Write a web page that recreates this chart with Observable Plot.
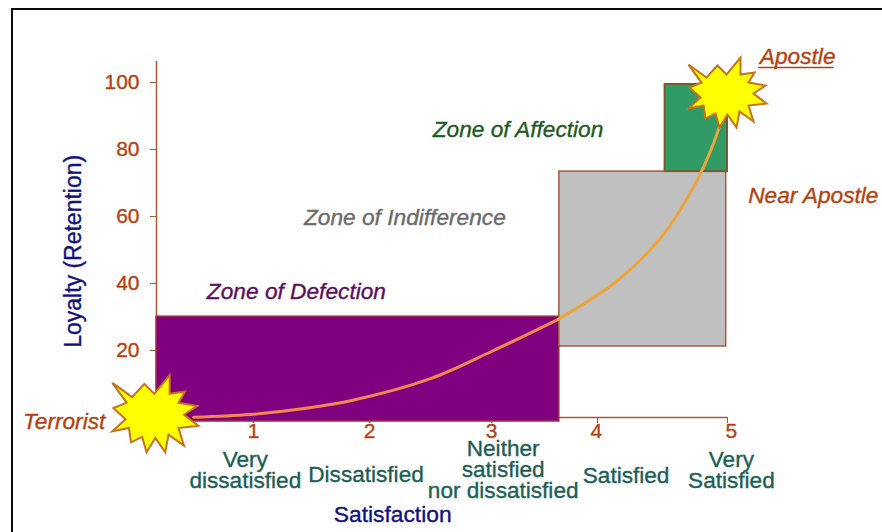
<!DOCTYPE html>
<html>
<head>
<meta charset="utf-8">
<script src="https://cdn.jsdelivr.net/npm/d3@7"></script>
<script src="https://cdn.jsdelivr.net/npm/@observablehq/plot@0.6"></script>
<style>
html,body{margin:0;padding:0;background:#fff;overflow:hidden}
#wrap{position:relative;width:882px;height:532px;overflow:hidden}
#frame{position:absolute;left:11px;top:8px;width:900px;height:600px;border-left:2.5px solid #0a0a0a;border-top:2.5px solid #0a0a0a;background:linear-gradient(#fdfdf0,#fff 6px)}
#chart{position:absolute;left:0;top:0}
</style>
</head>
<body>
<div id="wrap"><div id="frame"></div><div id="chart"></div></div>
<script>
// scale anchors: satisfaction ticks are unevenly spaced in the picture
const xStops = [0.17, 1, 2, 3, 4, 5];
const xPixels = [156, 253, 369, 491, 597, 727];
const yTicks = [20, 40, 60, 80, 100];
const xTicks = [1, 2, 3, 4, 5];
const xTickLabelX = [1, 2, 3, 3.99, 5.03];

// zones
const zoneNames = ["Defection", "Indifference", "Affection"];
const zoneX1 = [0.17, 3.64, 4.52];
const zoneX2 = [3.64, 4.99, 5];
const zoneY1 = [-1.2, 21.2, 73.4];
const zoneY2 = [30.1, 73.4, 99.4];
const zoneFill = ["#800080", "#c0c0c0", "#319b66"];
const zoneStroke = ["#a0304a", "#a8583a", "#7a5a30"];
const zoneStrokeWidth = [1.5, 1.5, 2];

// loyalty curve
const curveX = [0.487, 0.97, 1.405, 1.836, 2.5, 3, 3.63, 4.154, 4.485, 4.738, 4.892, 5];
const curveY = [0.09, 0.9, 2.54, 5, 11.6, 19.7, 29.3, 40.9, 53.6, 68.7, 81.8, 94.6];
const curveSplit = 7;

// stars
const starX = [0.16, 5];
const starY = [1.8, 97.6];
const starR = [43, 39];
const starOutline = [
  [-39,-26],[-21,-13],[-10,-25],[-1,-16],[13,-33],[13,-16],[27,-18],[21,-8],
  [38,-5],[26,3],[39,13],[21,15],[26,31],[12,21],[9,37],[0,24],
  [-8,37],[-12,23],[-22,28],[-24,15],[-39,18],[-27,7],[-38,-3],[-26,-8]
];

// category labels
const catLabels = ["Very\ndissatisfied", "Dissatisfied", "Neither\nsatisfied\nnor dissatisfied", "Satisfied", "Very\nSatisfied"];
const catX = [0.93, 1.97, 3.11, 4.22, 5.03];
const catY = [-16, -17.3, -15.8, -17.6, -15.8];

// free labels
const freeLabels = ["Zone of Affection", "Zone of Indifference", "Zone of Defection", "Apostle", "Near Apostle", "Terrorist"];
const freeX = [3.25, 2.29, 1.37, 5.54, 5.66, -0.62];
const freeY = [86, 59.7, 37.6, 107.8, 66.3, -1.2];
const freeColor = ["#1d5a24", "#6a6a6a", "#5a0f5e", "#b5410f", "#b5410f", "#b5410f"];

const star = {
  draw(ctx, size) {
    const k = Math.sqrt(size / Math.PI) / 39;
    starOutline.forEach(([a, b], i) => i ? ctx.lineTo(a * k, b * k) : ctx.moveTo(a * k, b * k));
    ctx.closePath();
  }
};

const zones = zoneNames.map((name, i) => ({name, x1: zoneX1[i], x2: zoneX2[i], y1: zoneY1[i], y2: zoneY2[i], fill: zoneFill[i], stroke: zoneStroke[i], sw: zoneStrokeWidth[i]}));
const curve = curveX.map((x, i) => ({x, y: curveY[i]}));
const stars = starX.map((x, i) => ({x, y: starY[i], r: starR[i]}));
const cats = catLabels.map((t, i) => ({t, x: catX[i], y: catY[i]}));
const free = freeLabels.map((t, i) => ({t, x: freeX[i], y: freeY[i], c: freeColor[i]}));
const xNums = xTicks.map((t, i) => ({t: String(t), x: xTickLabelX[i], y: -4.2}));

const axisBrown = "#a5583a";
const font = "Liberation Sans, Arial, sans-serif";
const heavy = 0.35;

const plot = Plot.plot({
  width: 882, height: 532,
  marginLeft: 156, marginBottom: 115, marginTop: 0, marginRight: 155,
  style: {background: "transparent", fontFamily: font, overflow: "visible"},
  x: {type: "linear", domain: xStops, range: xPixels, label: null},
  y: {type: "linear", domain: [0, 100], range: [417, 82], label: null},
  r: {type: "identity"},
  marks: [
    Plot.ruleX([0.17], {y1: 0, y2: 106.3, stroke: axisBrown, strokeWidth: 1.5}),
    Plot.ruleY([0], {x1: 0.17, x2: 5, stroke: axisBrown, strokeWidth: 1.5}),
    Plot.axisY({ticks: yTicks, tickSize: 6, text: null, stroke: axisBrown, label: null}),
    Plot.text(yTicks, {x: 0.17, y: d => d, text: d => String(d), textAnchor: "end", dx: -17, fill: "#b5410f", stroke: "#b5410f", strokeWidth: heavy, fontSize: 21}),
    Plot.axisX({ticks: xTicks, tickSize: 6, text: null, stroke: axisBrown, label: null}),
    Plot.rect(zones, {x1: "x1", x2: "x2", y1: "y1", y2: "y2", fill: "fill", stroke: "stroke", strokeWidth: "sw", inset: 0}),
    Plot.line(curve.slice(0, curveSplit), {x: "x", y: "y", stroke: "#f4874e", strokeWidth: 3, curve: "catmull-rom"}),
    Plot.line(curve.slice(curveSplit - 1), {x: "x", y: "y", stroke: "#eca53a", strokeWidth: 3, curve: "catmull-rom"}),
    Plot.dot(stars, {x: "x", y: "y", r: "r", symbol: star, fill: "#ffff00", stroke: "#c8701c", strokeWidth: 2}),
    Plot.text(xNums, {x: "x", y: "y", text: "t", fill: "#b5410f", stroke: "#b5410f", strokeWidth: heavy, fontSize: 21}),
    Plot.text(cats, {x: "x", y: "y", text: "t", fill: "#1a5e55", stroke: "#1a5e55", strokeWidth: heavy, fontSize: 22.6, lineHeight: 0.93}),
    Plot.text(["Satisfaction"], {x: [2.19], y: [-29], text: d => d, fill: "#10107e", stroke: "#10107e", strokeWidth: heavy, fontSize: 22.8}),
    Plot.text(["Loyalty (Retention)"], {x: [-0.54], y: [49.6], text: d => d, fill: "#10107e", stroke: "#10107e", strokeWidth: heavy, fontSize: 23, rotate: -90}),
    Plot.text(free, {x: "x", y: "y", text: "t", fill: "c", stroke: "c", strokeWidth: heavy, fontSize: 22.7, fontStyle: "italic"}),
    Plot.ruleY([104.5], {x1: 5.24, x2: 5.82, stroke: "#b5410f", strokeWidth: 1.5})
  ]
});
document.getElementById("chart").appendChild(plot);
</script>
</body>
</html>
